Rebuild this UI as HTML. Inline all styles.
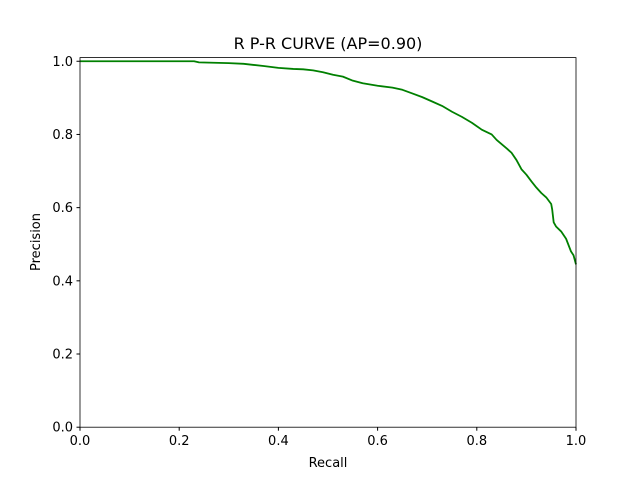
<!DOCTYPE html>
<html><head><meta charset="utf-8"><style>
body{margin:0;background:#fff}
svg{display:block;font-family:"DejaVu Sans","Liberation Sans",sans-serif}
</style></head><body>
<svg id="chart" width="640" height="480">
<rect width="640" height="480" fill="#fff"/>
<text x="328" y="49" text-anchor="middle" font-size="16">R P-R CURVE (AP=0.90)</text>
<g id="ticks"></g>
<path id="curve" fill="none" stroke="green" stroke-width="1.8" stroke-linejoin="round"/>
<rect x="80" y="57.6" width="496" height="369.6" fill="none" stroke="#000" stroke-width="0.8"/>
<text x="328" y="467" text-anchor="middle" font-size="13">Recall</text>
<text transform="translate(40,242) rotate(-90)" text-anchor="middle" font-size="13">Precision</text>
</svg>
<script>
const recall=[0,0.23,0.24,0.27,0.3,0.33,0.35,0.37,0.4,0.43,0.45,0.47,0.49,0.51,0.53,0.55,0.57,0.6,0.63,0.65,0.67,0.69,0.71,0.73,0.75,0.77,0.79,0.81,0.83,0.84,0.86,0.87,0.88,0.89,0.9,0.91,0.92,0.93,0.94,0.95,0.952,0.955,0.96,0.97,0.98,0.99,0.995,1.0];
const precision=[1.0,1.0,0.997,0.996,0.995,0.993,0.99,0.987,0.982,0.979,0.978,0.975,0.97,0.963,0.958,0.947,0.94,0.933,0.928,0.922,0.912,0.902,0.89,0.878,0.862,0.848,0.832,0.813,0.8,0.785,0.762,0.75,0.73,0.705,0.69,0.672,0.655,0.64,0.628,0.61,0.595,0.56,0.548,0.535,0.515,0.48,0.47,0.445];
const xTicks=[0,0.2,0.4,0.6,0.8,1.0];
const yTicks=[0,0.2,0.4,0.6,0.8,1.0];
const L=80,R=576,T=57.6,B=427.2,YMAX=1.01;
const sx=v=>L+v*(R-L);
const sy=v=>B-v/YMAX*(B-T);
const ns="http://www.w3.org/2000/svg";
const g=document.getElementById('ticks');
xTicks.forEach(t=>{
 const l=document.createElementNS(ns,'line');
 l.setAttribute('x1',sx(t));l.setAttribute('x2',sx(t));l.setAttribute('y1',B);l.setAttribute('y2',B+3.5);l.setAttribute('stroke','#000');
 
 
 g.appendChild(l);
 const tx=document.createElementNS(ns,'text');
 tx.setAttribute('x',sx(t));tx.setAttribute('y',B+18);tx.setAttribute('text-anchor','middle');tx.setAttribute('font-size','13');
 tx.textContent=t.toFixed(1);
 
 
 g.appendChild(tx);
});
yTicks.forEach(t=>{
 const l=document.createElementNS(ns,'line');
 l.setAttribute('x1',L-3.5);l.setAttribute('x2',L);l.setAttribute('y1',sy(t));l.setAttribute('y2',sy(t));l.setAttribute('stroke','#000');
 
 
 g.appendChild(l);
 const tx=document.createElementNS(ns,'text');
 tx.setAttribute('x',L-7);tx.setAttribute('y',sy(t)+4.5);tx.setAttribute('text-anchor','end');tx.setAttribute('font-size','13');
 tx.textContent=t.toFixed(1);
 
 
 g.appendChild(tx);
});
document.getElementById('curve').setAttribute('d',recall.map((r,i)=>(i?'L':'M')+sx(r).toFixed(2)+','+sy(precision[i]).toFixed(2)).join(''));
</script>
</body></html>
